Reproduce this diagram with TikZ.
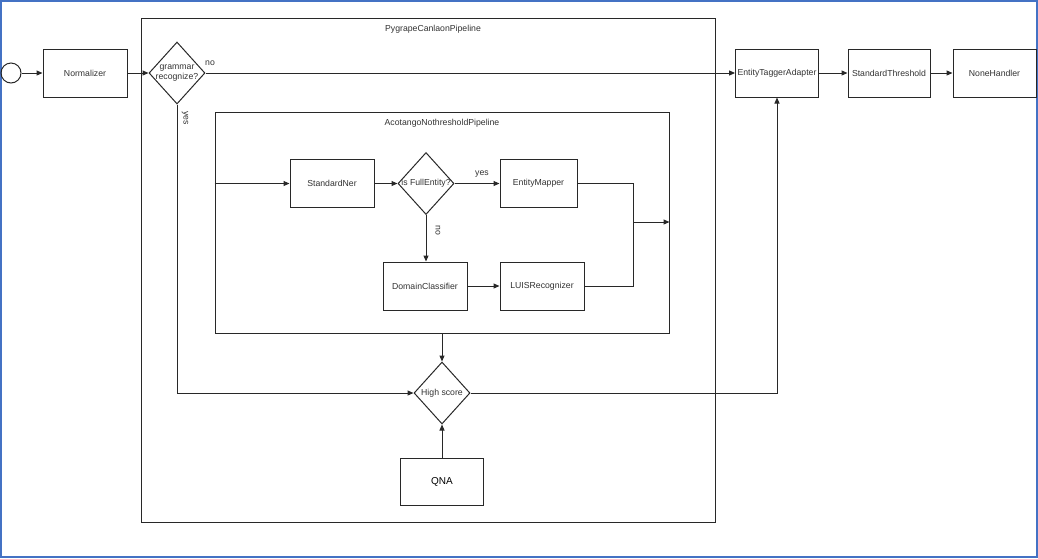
\documentclass[tikz,border=0pt]{standalone}
\usepackage{fontspec}
\setmainfont{Liberation Sans}
\usetikzlibrary{shapes.geometric, arrows.meta, positioning, calc}
\definecolor{lineGray}{RGB}{40, 40, 40}
\definecolor{textGray}{RGB}{50, 50, 50}
\definecolor{frameBlue}{RGB}{68, 114, 196}

\begin{document}
\begin{tikzpicture}[
    x=1pt, y=-1pt,
    flowBox/.style={draw=lineGray, line width=1pt, minimum width=84pt, minimum height=48pt, font=\fontsize{8.7}{10}\selectfont, text=textGray, inner sep=2pt},
    decisionBox/.style={draw=lineGray, line width=1pt, diamond, aspect=0.9, minimum width=56pt, minimum height=62pt, inner sep=-1pt, align=center, font=\fontsize{8.7}{10}\selectfont, text=textGray},
    pipeBox/.style={draw=lineGray, line width=1pt, inner sep=0pt},
    pipeTitle/.style={font=\fontsize{8.7}{10}\selectfont, text=textGray, inner sep=1pt},
    edgeLabel/.style={font=\fontsize{8.7}{10}\selectfont, text=textGray, inner sep=1pt},
    arrow/.style={draw=lineGray, line width=1pt, -{Triangle[length=6pt, width=5pt]}},
    plainLine/.style={draw=lineGray, line width=1pt}
]
\useasboundingbox (0,0) rectangle (1038,558);
\draw[frameBlue, line width=1.6pt] (1,1) rectangle (1037,557);

% Pipeline containers
\node[pipeBox, minimum width=574pt, minimum height=504pt] (outerPipe) at (428,270) {};
\node[pipeTitle] (outerTitle) at (433,29) {PygrapeCanlaonPipeline};
\node[pipeBox, minimum width=454pt, minimum height=221pt] (innerPipe) at (442,222.5) {};
\node[pipeTitle] (innerTitle) at (442,123) {AcotangoNothresholdPipeline};

% Main line
\node[circle, draw=lineGray, line width=1pt, minimum size=20pt] (start) at (11,73) {};
\node[flowBox] (normalizer) at (85,73) {Normalizer};
\node[decisionBox] (grammar) at (177,73) {grammar\\recognize?};
\node[flowBox, minimum width=82pt] (tagger) at (777,73) {EntityTaggerAdapter};
\node[flowBox, minimum width=82pt] (threshold) at (889,73) {StandardThreshold};
\node[flowBox, minimum width=83pt] (noneHandler) at (994.5,73) {NoneHandler};

% Inner pipeline
\node[flowBox] (stdNer) at (332,183.5) {StandardNer};
\node[decisionBox] (fullEntity) at (426,183.5) {is FullEntity?};
\node[flowBox, minimum width=77pt] (entityMapper) at (538.5,183.5) {EntityMapper};
\node[flowBox] (domainCls) at (425,286) {DomainClassifier};
\node[flowBox] (luis) at (542,286) {LUISRecognizer};
\coordinate (merge) at (633,222);

% Scoring
\node[decisionBox] (highScore) at (442,393) {High score};
\node[flowBox, minimum width=83pt, minimum height=47pt, font=\fontsize{10}{12}\selectfont, text=black] (qna) at (442,481.5) {QNA};

\draw[arrow] (start) -- (normalizer);
\draw[arrow] (normalizer) -- (grammar);
\draw[arrow] (grammar) -- (tagger);
\draw[arrow] (tagger) -- (threshold);
\draw[arrow] (threshold) -- (noneHandler);
\draw[arrow] (grammar.south) |- (highScore.west);

\draw[arrow] (innerPipe.west |- stdNer.west) -- (stdNer);
\draw[arrow] (stdNer) -- (fullEntity);
\draw[arrow] (fullEntity) -- (entityMapper);
\draw[arrow] (fullEntity.south) -- (fullEntity.south |- domainCls.north);
\draw[arrow] (domainCls) -- (luis);
\draw[plainLine] (entityMapper.east) -| (merge);
\draw[plainLine] (luis.east) -| (merge);
\draw[arrow] (merge) -- (innerPipe.east |- merge);

\draw[arrow] (innerPipe.south) -- (highScore.north);
\draw[arrow] (highScore.east) -| (tagger.south);
\draw[arrow] (qna) -- (highScore);

% Branch labels
\node[edgeLabel] (grammarNo) at (210,63) {no};
\node[edgeLabel, rotate=-90] (grammarYes) at (185,118) {yes};
\node[edgeLabel] (entityYes) at (482,174) {yes};
\node[edgeLabel, rotate=-90] (entityNo) at (438,230) {no};

\end{tikzpicture}
\end{document}
